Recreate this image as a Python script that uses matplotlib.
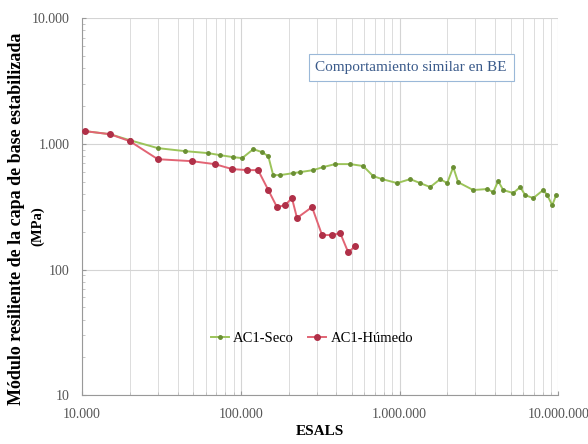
import matplotlib
matplotlib.use("Agg")
from matplotlib import pyplot as plt
from matplotlib.ticker import FuncFormatter, LogLocator, NullFormatter

plt.rcParams['font.family'] = ['Liberation Serif', 'DejaVu Serif']

# AC1-Seco (green)
seco_esals = [10440, 15000, 20000, 30000, 44500, 62200, 74100, 89400, 102000,
              120000, 136000, 149000, 160000, 177000, 214000, 237000, 286000,
              330000, 393000, 489000, 590000, 682000, 777000, 966000, 1167000,
              1349000, 1560000, 1804000, 1996000, 2178000, 2340000, 2910000,
              3566000, 3892000, 4181000, 4500000, 5200000, 5755000, 6185000,
              6950000, 8035000, 8513000, 9160000, 9700000]
seco_mr = [1262, 1194, 1069, 925, 875, 844, 813, 784, 770,
           908, 859, 798, 564, 564, 585, 596, 618,
           653, 690, 690, 666, 554, 524, 487, 524,
           487, 453, 524, 487, 653, 495, 429,
           437, 413, 505, 429, 406, 453, 391,
           370, 429, 391, 325, 391]

# AC1-Húmedo (red)
hum_esals = [10440, 15000, 20000, 30000, 49300, 68900, 88100, 110000, 128500,
             149000, 169000, 190000, 210000, 226000, 281000, 325000, 376000,
             423000, 475000, 525000]
hum_mr = [1262, 1194, 1050, 755, 728, 689, 630, 618, 618,
          429, 314, 325, 370, 257, 314, 188, 188,
          195, 137, 153]

fig = plt.figure(figsize=(5.88, 4.44), dpi=100)
ax = fig.add_axes([0.1395, 0.110, 0.81, 0.849])

ax.plot(seco_esals, seco_mr, color='#9cc45a', lw=1.4, marker='o', ms=2.5,
        mfc='#6a8f33', mec='#6a8f33', label='AC1-Seco', zorder=3)
ax.plot(hum_esals, hum_mr, color='#e26474', lw=1.4, marker='o', ms=4,
        mfc='#b03048', mec='#b03048', label='AC1-Húmedo', zorder=4)

ax.set_xscale('log')
ax.set_yscale('log')
ax.set_xlim(1e4, 1e7)
ax.set_ylim(10, 1e4)

def dots(v, pos):
    return f"{int(round(v)):,}".replace(',', '.')

ax.xaxis.set_major_formatter(FuncFormatter(dots))
ax.yaxis.set_major_formatter(FuncFormatter(dots))
ax.xaxis.set_minor_locator(LogLocator(base=10, subs=range(2, 10)))
ax.yaxis.set_minor_locator(LogLocator(base=10, subs=range(2, 10)))
ax.xaxis.set_minor_formatter(NullFormatter())
ax.yaxis.set_minor_formatter(NullFormatter())

ax.grid(True, which='major', axis='both', color='#d4d4d4', lw=0.8)
ax.grid(True, which='minor', axis='x', color='#dcdcdc', lw=0.7)
ax.set_axisbelow(True)

for s in ['top', 'right']:
    ax.spines[s].set_visible(False)
for s in ['left', 'bottom']:
    ax.spines[s].set_color('#999999')

ax.tick_params(axis='both', which='major', labelsize=10, colors='#999999',
               labelcolor='#555555', length=3, direction='in')
ax.tick_params(axis='both', which='minor', colors='#bbbbbb', length=2,
               direction='in')
ax.tick_params(axis='x', which='major', pad=9)
ax.tick_params(axis='y', which='major', pad=9)

ax.set_xlabel('ESALS', fontsize=11, fontweight='bold', labelpad=3)

# y-axis title, two lines placed separately
fig.text(17 / 588, 1 - 219 / 444,
         'Módulo resiliente de la capa de base estabilizada',
         rotation=90, ha='center', va='center', fontsize=13, fontweight='bold')
fig.text(38 / 588, 1 - 226 / 444, '(MPa)',
         rotation=90, ha='center', va='center', fontsize=10.5, fontweight='bold')

ax.text(0.691, 0.869, 'Comportamiento similar en BE', transform=ax.transAxes,
        fontsize=11, color='#3a5a8a', ha='center', va='center',
        bbox=dict(boxstyle='square,pad=0.45', fc='white', ec='#9ab8d8', lw=0.8))

ax.legend(loc='center', bbox_to_anchor=(0.483, 0.151), ncol=2, frameon=False,
          fontsize=10.5, handlelength=1.2, columnspacing=1.0, handletextpad=0.3)

fig.savefig('out.png', dpi=100)
